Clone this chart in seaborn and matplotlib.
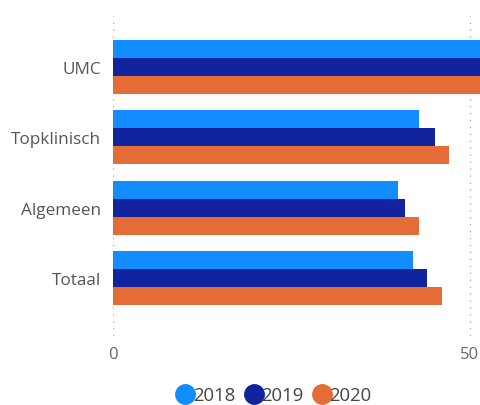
import matplotlib
matplotlib.use("Agg")
import matplotlib.pyplot as plt
from matplotlib.lines import Line2D
import seaborn as sns
import pandas as pd

categories = ["UMC", "Topklinisch", "Algemeen", "Totaal"]
years = ["2018", "2019", "2020"]
values_2018 = [55.0, 42.9, 40.0, 42.0]
values_2019 = [55.0, 45.1, 41.0, 44.0]
values_2020 = [55.0, 47.1, 42.9, 46.1]
colors = ["#118DFF", "#12239E", "#E66C37"]
xticks = [0, 50]

rows = []
for yr, vals in zip(years, [values_2018, values_2019, values_2020]):
    for c, v in zip(categories, vals):
        rows.append({"cat": c, "year": yr, "value": v})
df = pd.DataFrame(rows)

sns.set_style("white")
plt.rcParams["font.family"] = ["Open Sans", "DejaVu Sans"]

fig = plt.figure(figsize=(4.81, 4.06), dpi=100)
ax = fig.add_axes([0.2356, 0.170, 0.7644, 0.788])

sns.barplot(data=df, y="cat", x="value", hue="year", order=categories,
            hue_order=years, palette=colors, width=0.77, orient="h",
            saturation=1, errorbar=None, ax=ax, legend=False, linewidth=0)

ax.set_xlim(0, 51.6)
ax.set_ylim(3.82, -0.72)
ax.set_xticks(xticks)
ax.set_xticklabels([str(t) for t in xticks])
for x in xticks:
    ax.axvline(x, color="#b0b0b0", linestyle=(0, (1, 4)), linewidth=1, zorder=0)
ax.set_xlabel("")
ax.set_ylabel("")
for s in ax.spines.values():
    s.set_visible(False)
ax.tick_params(axis="both", length=0)
ax.tick_params(axis="x", labelsize=12, colors="#666666", pad=7)
ax.tick_params(axis="y", labelsize=12.3, colors="#555555", pad=9)

handles = [Line2D([0], [0], marker="o", linestyle="", markersize=14,
                  markerfacecolor=c, markeredgecolor=c) for c in colors]
fig.legend(handles, years, loc="center", bbox_to_anchor=(0.567, 0.024),
           ncol=3, frameon=False, handletextpad=-0.2, columnspacing=0.4,
           fontsize=13.3, labelcolor="#444444", handlelength=1.2)

fig.savefig("out.png", dpi=100)
